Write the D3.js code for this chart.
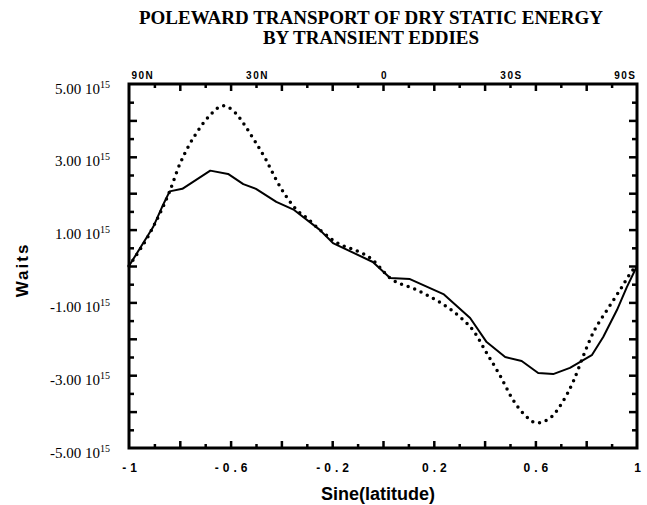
<!DOCTYPE html>
<html>
<head>
<meta charset="utf-8">
<script src="https://cdn.jsdelivr.net/npm/d3@7"></script>
<style>
  body { margin: 0; background: #fff; }
  svg { display: block; }
  .title { font-family: "Liberation Serif", "Times New Roman", serif; font-weight: bold; font-size: 19px; }
  .ylab { font-family: "Liberation Serif", "Times New Roman", serif; font-size: 15px; }
  .xlab { font-family: "Liberation Sans", Arial, sans-serif; font-weight: bold; font-size: 12px; letter-spacing: 4px; }
  .toplab { font-family: "Liberation Sans", Arial, sans-serif; font-weight: bold; font-size: 10px; letter-spacing: 1.5px; }
  .axtitle { font-family: "Liberation Sans", Arial, sans-serif; font-weight: bold; }
</style>
</head>
<body>
<div id="chart"></div>
<script>
// transport values in units of 10^15 W, x = sine(latitude)
const solidX = [-1, -0.905, -0.87, -0.84, -0.79, -0.68, -0.61, -0.55, -0.50, -0.42, -0.35, -0.25, -0.197, -0.04, 0.028, 0.106, 0.24, 0.343, 0.408, 0.481, 0.546, 0.611, 0.670, 0.736, 0.822, 0.867, 0.921, 0.96, 1];
const solidY = [0, 1.07, 1.62, 2.05, 2.12, 2.62, 2.53, 2.25, 2.12, 1.76, 1.54, 1.0, 0.63, 0.11, -0.33, -0.36, -0.78, -1.43, -2.09, -2.50, -2.61, -2.94, -2.97, -2.80, -2.45, -1.95, -1.21, -0.58, 0];

const dotX = [-1, -0.905, -0.84, -0.80, -0.765, -0.73, -0.68, -0.63, -0.58, -0.54, -0.50, -0.46, -0.42, -0.38, -0.34, -0.30, -0.25, -0.197, -0.04, 0.028, 0.134, 0.224, 0.303, 0.354, 0.408, 0.46, 0.512, 0.551, 0.606, 0.657, 0.705, 0.748, 0.787, 0.827, 0.882, 0.933, 0.984, 1];
const dotY = [0, 1.07, 2.05, 2.8, 3.3, 3.7, 4.15, 4.40, 4.20, 3.82, 3.38, 2.91, 2.36, 1.90, 1.54, 1.32, 1.0, 0.71, 0.16, -0.33, -0.66, -1.0, -1.40, -1.76, -2.39, -3.0, -3.68, -4.04, -4.31, -4.18, -3.76, -3.19, -2.50, -1.84, -1.21, -0.66, -0.11, 0];

const yTicks = [5, 3, 1, -1, -3, -5];
const yTickLabels = ["5.00", "3.00", "1.00", "-1.00", "-3.00", "-5.00"];
const xTicks = [-1, -0.6, -0.2, 0.2, 0.6, 1];
const xTickLabels = ["-1", "-0.6", "-0.2", "0.2", "0.6", "1"];
const topTicks = [-1, -0.5, 0, 0.5, 1];
const topTickLabels = ["90N", "30N", "0", "30S", "90S"];
const titleLines = ["POLEWARD TRANSPORT OF DRY STATIC ENERGY", "BY TRANSIENT EDDIES"];

const width = 647, height = 505;
const margin = {top: 84, right: 10, bottom: 57, left: 129};
const innerW = width - margin.left - margin.right;
const innerH = height - margin.top - margin.bottom;

const svg = d3.select("#chart").append("svg")
    .attr("width", width)
    .attr("height", height);

const g = svg.append("g")
    .attr("transform", `translate(${margin.left},${margin.top})`);

const xScale = d3.scaleLinear().domain([-1, 1]).range([0, innerW]);
const yScale = d3.scaleLinear().domain([-5, 5]).range([innerH, 0]);

// title
svg.selectAll(".title")
    .data(titleLines)
    .enter()
    .append("text")
    .attr("class", "title")
    .attr("text-anchor", "middle")
    .attr("x", 371)
    .attr("y", (d, i) => 24 + i * 20)
    .text(d => d);

// inward ticks on all four sides, long every 0.2 / 1e15, short in between
const xMajor = d3.range(-8, 9, 2).map(d => d / 10);
const xMinor = d3.range(-9, 10, 2).map(d => d / 10);
const yMajor = d3.range(-4, 5, 1);
const yMinor = d3.range(-4.5, 5, 1);

function tickGroup(axis, transform) {
    const ax = g.append("g").attr("transform", transform).call(axis);
    ax.select(".domain").remove();
    ax.selectAll("line").attr("stroke", "#000").attr("stroke-width", 2.5);
    ax.selectAll("text").remove();
    return ax;
}

tickGroup(d3.axisBottom(xScale).tickValues(xMajor).tickSize(-7), `translate(0,${innerH})`);
tickGroup(d3.axisBottom(xScale).tickValues(xMinor).tickSize(-4), `translate(0,${innerH})`);
tickGroup(d3.axisTop(xScale).tickValues(xMajor).tickSize(-7), "translate(0,0)");
tickGroup(d3.axisTop(xScale).tickValues(xMinor).tickSize(-4), "translate(0,0)");
tickGroup(d3.axisLeft(yScale).tickValues(yMajor).tickSize(-8), "translate(0,0)");
tickGroup(d3.axisLeft(yScale).tickValues(yMinor).tickSize(-5), "translate(0,0)");
tickGroup(d3.axisRight(yScale).tickValues(yMajor).tickSize(-8), `translate(${innerW},0)`);
tickGroup(d3.axisRight(yScale).tickValues(yMinor).tickSize(-5), `translate(${innerW},0)`);

// bottom labels
const xLab = g.append("g")
    .attr("transform", `translate(0,${innerH})`)
    .call(d3.axisBottom(xScale).tickValues(xTicks).tickSize(0).tickPadding(0)
        .tickFormat((d, i) => xTickLabels[i]));
xLab.select(".domain").remove();
xLab.selectAll("text")
    .attr("class", "xlab")
    .attr("font-family", null).attr("font-size", null)
    .attr("fill", "#000")
    .attr("y", 24)
    .attr("dy", 0)
    .attr("dx", 2);

// top labels (latitude)
const topLab = g.append("g")
    .call(d3.axisTop(xScale).tickValues(topTicks).tickSize(0).tickPadding(0)
        .tickFormat((d, i) => topTickLabels[i]));
topLab.select(".domain").remove();
topLab.selectAll("text")
    .attr("class", "toplab")
    .attr("font-family", null).attr("font-size", null)
    .attr("fill", "#000")
    .attr("y", -5)
    .attr("dy", 0)
    .attr("text-anchor", (d, i) => i === 0 ? "start" : (i === topTicks.length - 1 ? "end" : "middle"))
    .attr("dx", (d, i) => i === 0 ? 2 : (i === topTicks.length - 1 ? -1 : 1));

// left labels with 10^15
const yLab = g.append("g")
    .call(d3.axisLeft(yScale).tickValues(yTicks).tickSize(0).tickPadding(0).tickFormat(""));
yLab.select(".domain").remove();
yLab.selectAll("text")
    .attr("class", "ylab")
    .attr("font-family", null).attr("font-size", null)
    .attr("fill", "#000")
    .attr("x", -19)
    .attr("dy", 9)
    .each(function(d, i) {
        const t = d3.select(this);
        t.append("tspan").text(yTickLabels[i] + " 10");
        t.append("tspan").attr("font-size", 10).attr("dy", -6).text("15");
    });

// axis titles
svg.append("text")
    .attr("class", "axtitle")
    .attr("text-anchor", "middle")
    .attr("transform", "translate(28,270) rotate(-90)")
    .attr("font-size", 17)
    .attr("letter-spacing", 2)
    .text("Waits");

svg.append("text")
    .attr("class", "axtitle")
    .attr("text-anchor", "middle")
    .attr("x", 378)
    .attr("y", 500)
    .attr("font-size", 18)
    .text("Sine(latitude)");

// curves
const solidLine = d3.line()
    .x(d => xScale(d[0]))
    .y(d => yScale(d[1]));

const dotLine = d3.line()
    .x(d => xScale(d[0]))
    .y(d => yScale(d[1]))
    .curve(d3.curveMonotoneX);

g.append("path")
    .datum(dotX.map((d, i) => [d, dotY[i]]))
    .attr("fill", "none")
    .attr("stroke", "#000")
    .attr("stroke-width", 3.5)
    .attr("stroke-linecap", "round")
    .attr("stroke-dasharray", "0,7")
    .attr("d", dotLine);

g.append("path")
    .datum(solidX.map((d, i) => [d, solidY[i]]))
    .attr("fill", "none")
    .attr("stroke", "#000")
    .attr("stroke-width", 2)
    .attr("stroke-linejoin", "round")
    .attr("d", solidLine);

// frame
g.append("rect")
    .attr("x", 0)
    .attr("y", 0)
    .attr("width", innerW)
    .attr("height", innerH)
    .attr("fill", "none")
    .attr("stroke", "#000")
    .attr("stroke-width", 3);
</script>
</body>
</html>
